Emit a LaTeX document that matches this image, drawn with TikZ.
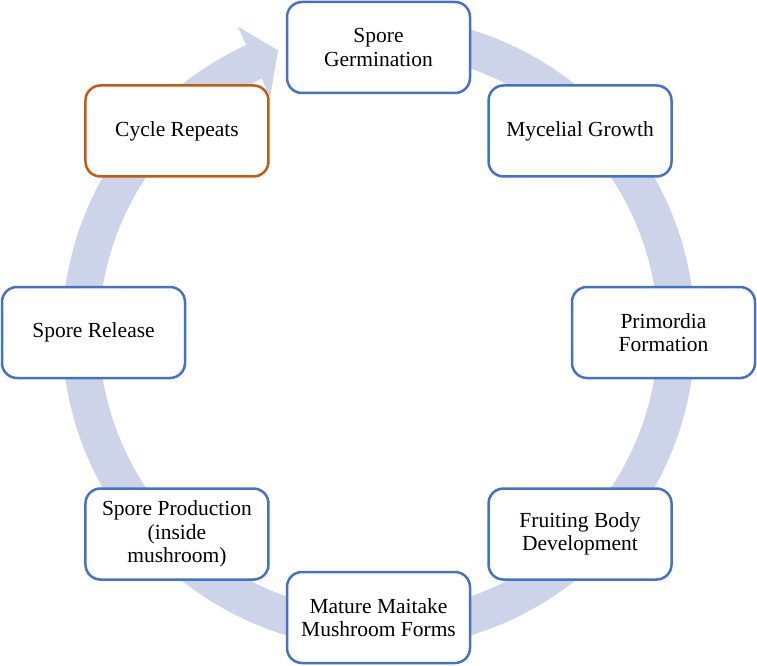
\documentclass[tikz,border=0pt]{standalone}
\usepackage{fontspec}
\setmainfont{Liberation Serif}
\usepackage{xcolor}
\usepackage{tikz}
\usetikzlibrary{arrows}
\definecolor{ringblue}{RGB}{205,212,234}
\definecolor{boxblue}{RGB}{68,114,196}
\definecolor{boxorange}{RGB}{197,90,17}
\newcommand{\stagefont}{\fontsize{21.5}{23.5}\selectfont}

\begin{document}
\begin{tikzpicture}[x=1pt, y=1pt,
		stage/.style={draw=boxblue, fill=white, line width=2.5pt, rounded corners=15pt,
			minimum width=183pt, minimum height=91pt, align=center, font=\stagefont}]
		
		\useasboundingbox (0,0) rectangle (757,665);
		\coordinate (c) at (378.5,332.5);
		
		% circular arrow behind the stages
		\fill[ringblue] ([shift={(90:316.5)}]c) arc[start angle=90, end angle=-245.3, radius=316.5]
			-- ([shift={(-245.3:336.7)}]c) -- ([shift={(-250.4:299.5)}]c)
			-- ([shift={(-245.3:259.3)}]c) -- ([shift={(-245.3:279.5)}]c)
			arc[start angle=-245.3, end angle=90, radius=279.5] -- cycle;
		
		\node[stage] (germ) at ([shift={(90:285)}]c) {Spore\\Germination};
		\node[stage] (myc) at ([shift={(45:285)}]c) {Mycelial Growth};
		\node[stage] (prim) at ([shift={(0:285)}]c) {Primordia\\Formation};
		\node[stage] (fruit) at ([shift={(-45:285)}]c) {Fruiting Body\\Development};
		\node[stage] (mature) at ([shift={(-90:285)}]c) {Mature Maitake\\Mushroom Forms};
		\node[stage] (prod) at ([shift={(-135:285)}]c) {Spore Production\\(inside\\mushroom)};
		\node[stage] (rel) at ([shift={(180:285)}]c) {Spore Release};
		\node[stage, draw=boxorange] (rep) at ([shift={(135:285)}]c) {Cycle Repeats};
		
		\end{tikzpicture}
\end{document}
